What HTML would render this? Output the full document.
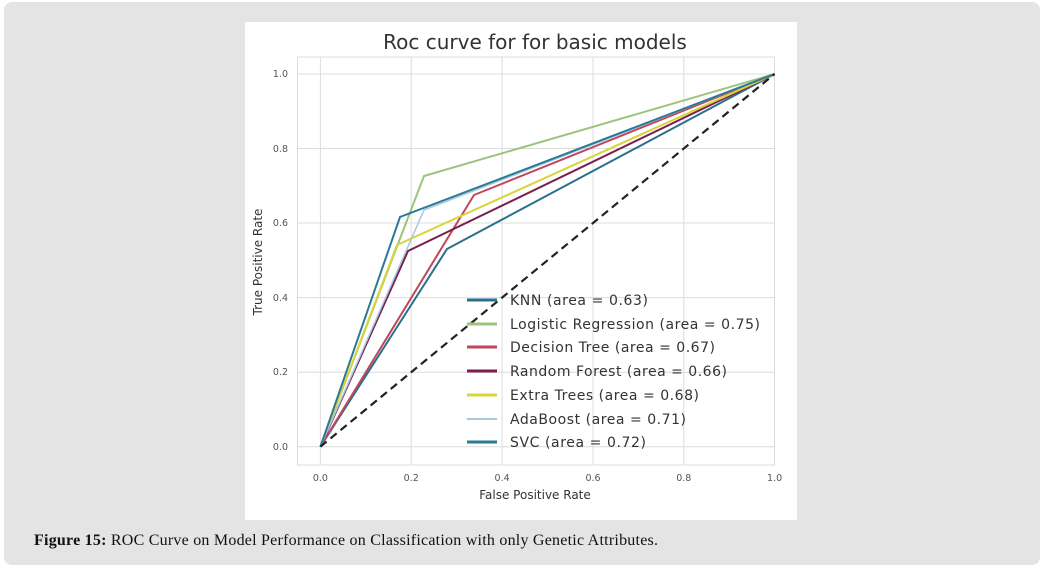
<!DOCTYPE html>
<html><head><meta charset="utf-8"><style>
body{margin:0;background:#fff;width:1045px;height:567px;overflow:hidden}
</style></head><body>
<svg width="1045" height="567" xmlns="http://www.w3.org/2000/svg" font-family="DejaVu Sans, Liberation Sans, sans-serif">
<rect x="4" y="2" width="1036" height="563" rx="8" fill="#e4e4e4"/>
<rect x="245" y="22" width="552" height="498" fill="#fff"/>
<text x="535" y="49" font-size="20" fill="#333" text-anchor="middle">Roc curve for for basic models</text>
<g stroke="#dcdcdc" stroke-width="1">
<rect x="297.5" y="57" width="477" height="408" fill="none"/>
<line x1="320.4" y1="57" x2="320.4" y2="465"/><line x1="411.2" y1="57" x2="411.2" y2="465"/><line x1="502.1" y1="57" x2="502.1" y2="465"/><line x1="593" y1="57" x2="593" y2="465"/><line x1="683.8" y1="57" x2="683.8" y2="465"/>
<line x1="297.5" y1="74" x2="774.6" y2="74"/><line x1="297.5" y1="148.5" x2="774.6" y2="148.5"/><line x1="297.5" y1="223" x2="774.6" y2="223"/><line x1="297.5" y1="297.6" x2="774.6" y2="297.6"/><line x1="297.5" y1="372.2" x2="774.6" y2="372.2"/><line x1="297.5" y1="446.7" x2="774.6" y2="446.7"/>
</g>
<g font-size="9.5" fill="#555" text-anchor="end">
<text x="288" y="77">1.0</text><text x="288" y="152">0.8</text><text x="288" y="226">0.6</text><text x="288" y="301">0.4</text><text x="288" y="375">0.2</text><text x="288" y="450">0.0</text>
</g>
<g font-size="9.5" fill="#555" text-anchor="middle">
<text x="320.4" y="481">0.0</text><text x="411.2" y="481">0.2</text><text x="502.1" y="481">0.4</text><text x="593" y="481">0.6</text><text x="683.8" y="481">0.8</text><text x="774.6" y="481">1.0</text>
</g>
<text x="535" y="499" font-size="12" fill="#333" text-anchor="middle">False Positive Rate</text>
<text transform="translate(262,262) rotate(-90)" font-size="12" fill="#333" text-anchor="middle">True Positive Rate</text>
<g fill="none" stroke-width="2">
<polyline stroke="#2a6f8c" points="320.4,446.7 447,249 774.6,74"/>
<polyline stroke="#9cc47c" points="320.4,446.7 424,176 774.6,74"/>
<polyline stroke="#c0465a" points="320.4,446.7 474,195 774.6,74"/>
<polyline stroke="#7a1f4e" points="320.4,446.7 408,251 774.6,74"/>
<polyline stroke="#d9d43a" points="320.4,446.7 397,245 774.6,74"/>
<polyline stroke="#a8c8e0" stroke-width="1.5" points="320.4,446.7 424,210 774.6,74"/>
<polyline stroke="#2a7a95" points="320.4,446.7 400,217 774.6,74"/>
<line x1="320.4" y1="446.7" x2="774.6" y2="74" stroke="#222" stroke-width="2.2" stroke-dasharray="8,5"/>
</g>
<g stroke-width="3">
<line x1="467" y1="300" x2="497" y2="300" stroke="#2a6f8c"/>
<line x1="467" y1="324" x2="497" y2="324" stroke="#9cc47c"/>
<line x1="467" y1="347" x2="497" y2="347" stroke="#c0465a"/>
<line x1="467" y1="371" x2="497" y2="371" stroke="#7a1f4e"/>
<line x1="467" y1="395" x2="497" y2="395" stroke="#d9d43a"/>
<line x1="467" y1="419" x2="497" y2="419" stroke="#a8c8e0" stroke-width="2"/>
<line x1="467" y1="442" x2="497" y2="442" stroke="#2a7a95"/>
</g>
<g font-size="14" fill="#333">
<text x="510" y="305" textLength="138">KNN (area = 0.63)</text>
<text x="510" y="329" textLength="250">Logistic Regression (area = 0.75)</text>
<text x="510" y="352" textLength="205">Decision Tree (area = 0.67)</text>
<text x="510" y="376" textLength="217">Random Forest (area = 0.66)</text>
<text x="510" y="400" textLength="189">Extra Trees (area = 0.68)</text>
<text x="510" y="424" textLength="176">AdaBoost (area = 0.71)</text>
<text x="510" y="447" textLength="136">SVC (area = 0.72)</text>
</g>
<text x="34" y="545" font-size="16" fill="#111" font-family="Liberation Serif, serif" textLength="624"><tspan font-weight="bold">Figure 15:</tspan> ROC Curve on Model Performance on Classification with only Genetic Attributes.</text>
</svg>
</body></html>
